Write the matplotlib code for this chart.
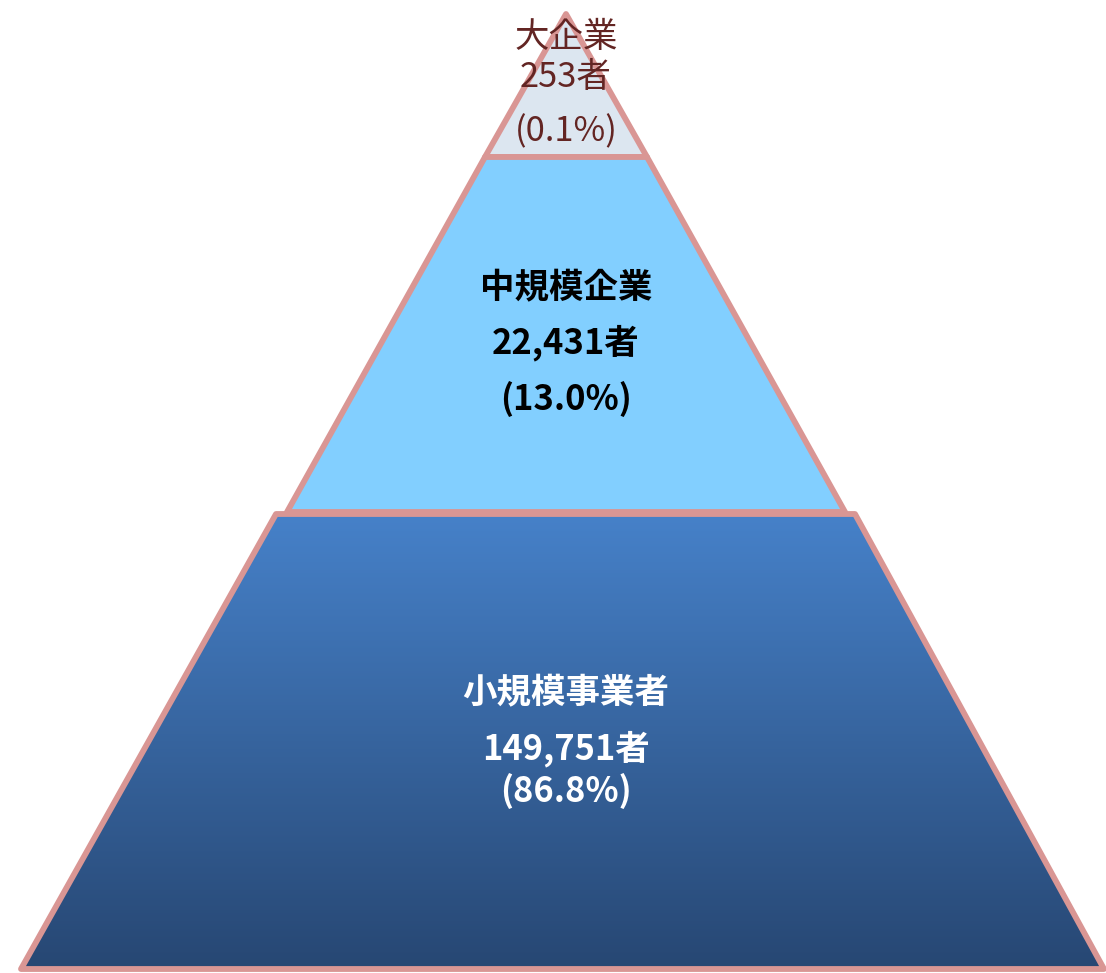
import numpy as np
import matplotlib.pyplot as plt
from matplotlib.patches import Polygon

plt.rcParams['font.family'] = ['Noto Sans CJK JP', 'DejaVu Sans']

# data
tiers = ["大企業", "中規模企業", "小規模事業者"]
counts = [253, 22431, 149751]
shares = [0.1, 13.0, 86.8]

EDGE = "#d99694"
W, H = 1106, 973
FS = 24.8

fig = plt.figure(figsize=(W / 100, H / 100), dpi=100)
ax = fig.add_axes([0, 0, 1, 1])
ax.set_xlim(0, W)
ax.set_ylim(H, 0)
ax.axis("off")

# layout of the three tiers (pixel space)
top_poly = [(566, 14), (647, 157), (485, 157)]
mid_poly = [(485, 157), (647, 157), (845, 512), (287, 512)]
bot_poly = [(276, 514), (855, 514), (1104, 969), (21, 969)]

ax.add_patch(Polygon(top_poly, closed=True, facecolor="#dce6f0",
                     edgecolor=EDGE, lw=4.2, joinstyle="round", zorder=2))
ax.add_patch(Polygon(mid_poly, closed=True, facecolor="#82cfff",
                     edgecolor=EDGE, lw=4.2, joinstyle="round", zorder=2))

# bottom tier with vertical gradient
bot = Polygon(bot_poly, closed=True, facecolor="none",
              edgecolor=EDGE, lw=4.2, joinstyle="round", zorder=3)
ax.add_patch(bot)
c_top = np.array([0x46, 0x81, 0xc9]) / 255
c_bot = np.array([0x27, 0x47, 0x73]) / 255
t = np.linspace(0, 1, 256)[:, None, None]
grad = c_top * (1 - t) + c_bot * t
grad = np.repeat(grad, 2, axis=1)
im = ax.imshow(grad, extent=[0, W, 969, 514], aspect="auto", zorder=1,
               interpolation="bilinear")
clip = Polygon(bot_poly, closed=True, transform=ax.transData)
im.set_clip_path(clip)
ax.set_xlim(0, W)
ax.set_ylim(H, 0)

cx = 566
# top tier
tc = "#632523"
ax.text(cx, 37, tiers[0], ha="center", va="center", fontsize=FS, color=tc, zorder=5)
ax.text(cx, 77, f"{counts[0]:,}者", ha="center", va="center", fontsize=FS, color=tc, zorder=5)
ax.text(cx, 132, f"({shares[0]:.1f}%)", ha="center", va="center", fontsize=FS, color=tc, zorder=5)

# middle tier
ax.text(cx, 288, tiers[1], ha="center", va="center", fontsize=FS,
        fontweight="bold", color="black", zorder=5)
ax.text(cx, 343, f"{counts[1]:,}者", ha="center", va="center", fontsize=FS,
        fontweight="bold", color="black", zorder=5)
ax.text(cx, 399, f"({shares[1]:.1f}%)", ha="center", va="center", fontsize=FS,
        fontweight="bold", color="black", zorder=5)

# bottom tier
ax.text(cx, 693, tiers[2], ha="center", va="center", fontsize=FS,
        fontweight="bold", color="white", zorder=5)
ax.text(cx, 749, f"{counts[2]:,}者", ha="center", va="center", fontsize=FS,
        fontweight="bold", color="white", zorder=5)
ax.text(cx, 791, f"({shares[2]:.1f}%)", ha="center", va="center", fontsize=FS,
        fontweight="bold", color="white", zorder=5)

fig.savefig("out.png", dpi=100, facecolor="white")
